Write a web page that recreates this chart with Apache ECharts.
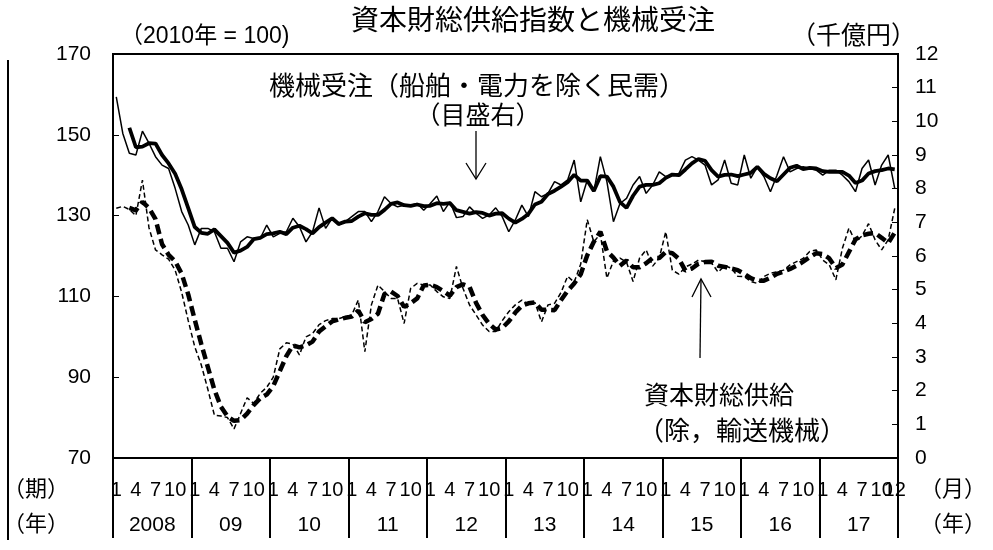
<!DOCTYPE html>
<html><head><meta charset="utf-8">
<script src="https://cdn.jsdelivr.net/npm/echarts@6/dist/echarts.min.js"></script>
<style>html,body{margin:0;padding:0;background:#fff}#c{width:993px;height:550px}</style>
</head><body><div id="c"></div>
<script>
const years = ['2008','09','10','11','12','13','14','15','16','17'];
const monthTicks = [1,4,7,10];
const leftTicks = [70,90,110,130,150,170];
const rightTicks = [0,1,2,3,4,5,6,7,8,9,10,11,12];

// 機械受注（船舶・電力を除く民需）千億円 monthly
const machThin = [10.73,9.64,9.05,9.00,9.71,9.35,8.95,8.70,8.60,8.01,7.32,6.92,
6.33,6.82,6.82,6.72,6.23,6.23,5.83,6.42,6.57,6.52,6.52,6.92,
6.57,6.67,6.72,7.12,6.87,6.42,6.72,7.43,6.82,7.12,6.92,7.02,
7.17,7.32,7.32,7.02,7.32,7.76,7.56,7.46,7.51,7.51,7.56,7.36,
7.56,7.78,7.32,7.61,7.14,7.17,7.46,7.27,7.12,7.22,7.43,7.17,
6.72,7.07,7.51,7.17,7.91,7.76,7.86,8.21,8.11,8.26,8.85,7.61,
8.26,7.91,8.95,8.21,7.02,7.56,7.71,8.11,8.36,7.86,8.11,8.50,
8.36,8.40,8.45,8.85,8.95,8.85,8.70,8.11,8.26,8.85,8.16,8.11,
9.00,8.31,8.65,8.36,7.91,8.40,8.95,8.50,8.60,8.65,8.60,8.55,
8.40,8.55,8.55,8.40,8.21,7.91,8.60,8.85,8.11,8.70,9.00,8.01];
// 機械受注 3か月移動平均（太線）
const machThick = [null,null,9.81,9.23,9.25,9.35,9.34,9.00,8.75,8.44,7.98,7.42,
6.86,6.69,6.66,6.79,6.59,6.39,6.10,6.16,6.27,6.50,6.54,6.65,
6.67,6.72,6.65,6.84,6.90,6.80,6.67,6.86,6.99,7.12,6.95,7.02,
7.04,7.17,7.27,7.22,7.22,7.37,7.55,7.59,7.51,7.49,7.53,7.48,
7.49,7.57,7.55,7.57,7.36,7.31,7.26,7.30,7.28,7.20,7.26,7.27,
7.11,6.99,7.10,7.25,7.53,7.61,7.84,7.94,8.06,8.19,8.41,8.24,
8.24,7.93,8.37,8.36,8.06,7.60,7.43,7.79,8.06,8.11,8.11,8.16,
8.32,8.42,8.40,8.57,8.75,8.88,8.83,8.55,8.36,8.41,8.42,8.37,
8.42,8.47,8.65,8.44,8.31,8.22,8.42,8.62,8.68,8.58,8.62,8.60,
8.52,8.50,8.50,8.50,8.39,8.17,8.24,8.45,8.52,8.55,8.60,8.57];
// 資本財総供給（除，輸送機械）2010年=100 monthly
const capThin = [131.8,132.3,131.5,130.0,138.8,127.0,121.5,120.3,119.2,116.5,111.0,104.0,
97.5,93.0,87.0,80.6,80.4,80.0,77.2,81.0,84.9,83.5,86.0,87.5,
90.0,97.0,98.5,98.2,95.5,100.0,100.8,103.0,104.0,104.5,104.5,105.0,
105.4,109.1,96.3,107.9,112.8,111.2,109.5,109.5,103.3,112.0,113.2,112.8,
112.8,111.2,109.9,109.5,117.4,112.0,107.9,105.4,102.9,101.3,101.3,104.0,
106.2,107.9,109.1,108.0,108.5,103.7,107.9,108.3,111.0,115.0,113.5,118.0,
129.0,123.5,125.5,114.5,118.8,119.5,118.5,113.7,119.5,121.5,117.5,119.5,
126.0,116.5,115.5,117.3,118.0,119.0,118.6,118.3,116.0,117.6,117.0,115.0,
114.9,113.7,113.2,114.9,115.7,116.1,116.5,117.8,118.6,119.4,121.1,121.5,
119.0,117.8,114.1,121.9,126.9,123.5,125.0,128.0,124.0,121.5,124.0,131.8];
// 資本財総供給 3か月移動平均（太線）
const capThick = [null,null,131.9,131.3,133.4,131.9,129.1,122.9,120.3,118.7,115.6,110.5,
104.2,98.2,92.5,86.9,82.7,80.3,79.2,79.4,81.0,83.1,84.8,85.7,
87.8,91.5,95.2,97.9,97.4,97.9,98.8,101.3,102.6,103.8,104.3,104.7,
105.0,106.5,103.6,104.4,105.7,110.6,111.2,110.1,107.4,108.3,109.5,112.7,
112.9,112.3,111.3,110.2,112.3,113.0,112.4,108.4,105.4,103.2,101.8,102.2,
103.8,106.0,107.7,108.3,108.5,106.7,106.7,106.6,109.1,111.4,113.2,115.5,
120.2,123.5,126.0,121.2,119.6,117.6,118.9,117.2,117.2,118.2,119.5,119.5,
121.0,120.7,119.3,116.4,116.9,118.1,118.5,118.6,117.6,117.3,116.9,116.5,
115.6,114.5,113.9,113.9,114.6,115.6,116.1,116.8,117.6,118.6,119.7,120.7,
120.5,119.4,117.0,117.9,121.0,124.1,125.1,125.5,125.7,124.5,123.2,125.8];

const months = [];
years.forEach(y => { for (let m = 1; m <= 12; m++) months.push(y + '-' + m); });
const lastIdx = months.length - 1;

const FONT = '"Liberation Sans", "Noto Sans CJK JP", sans-serif';
const NUM = 21;
const chart = echarts.init(document.getElementById('c'), null, {renderer: 'canvas'});
const txt = (text, x, y, size, align) => ({
  type: 'text', x: x, y: y,
  style: {text: text, fill: '#000', font: size + 'px ' + FONT, textAlign: align || 'left', textVerticalAlign: 'middle'}
});
const ln = (pts, w) => ({type: 'polyline', shape: {points: pts}, style: {stroke: '#000', lineWidth: w || 1.3, fill: null}});
const monthLabel = {color: '#000', fontSize: 20, fontFamily: FONT, margin: 22, formatter: (v) => v.split('-')[1]};

chart.setOption({
  animation: false,
  backgroundColor: '#fff',
  textStyle: {fontFamily: FONT, color: '#000'},
  grid: {left: 113, right: 95, top: 54, bottom: 92, show: true, borderColor: '#000', borderWidth: 2, containLabel: false},
  xAxis: [{
    type: 'category', data: months, boundaryGap: true, gridIndex: 0,
    axisLine: {show: true, lineStyle: {color: '#000', width: 2}},
    axisTick: {show: false},
    axisLabel: Object.assign({}, monthLabel, {
      showMinLabel: true, showMaxLabel: true,
      interval: (i) => monthTicks.indexOf(i % 12 + 1) >= 0
    }),
    splitLine: {show: false}
  }, {
    type: 'category', data: years, boundaryGap: true, gridIndex: 0, position: 'bottom',
    axisLine: {show: false},
    axisTick: {show: true, length: 80, lineStyle: {color: '#000', width: 2}},
    axisLabel: {color: '#000', fontSize: NUM, fontFamily: FONT, margin: 57, interval: 0},
    splitLine: {show: false}
  }, {
    type: 'category', data: months, boundaryGap: true, gridIndex: 0, position: 'bottom',
    axisLine: {show: false}, axisTick: {show: false},
    axisLabel: Object.assign({}, monthLabel, {
      showMinLabel: true, showMaxLabel: true,
      interval: (i) => i === lastIdx
    }),
    splitLine: {show: false}
  }],
  yAxis: [{
    type: 'value', min: leftTicks[0], max: leftTicks[leftTicks.length - 1], interval: 20, position: 'left',
    axisLine: {show: true, lineStyle: {color: '#000', width: 2}},
    axisTick: {show: true, inside: true, length: 6, lineStyle: {color: '#000', width: 1}},
    axisLabel: {color: '#000', fontSize: NUM, fontFamily: FONT, margin: 22},
    splitLine: {show: false}
  }, {
    type: 'value', min: rightTicks[0], max: rightTicks[rightTicks.length - 1], interval: 1, position: 'right',
    axisLine: {show: true, lineStyle: {color: '#000', width: 2}},
    axisTick: {show: true, inside: true, length: 6, lineStyle: {color: '#000', width: 1}},
    axisLabel: {color: '#000', fontSize: NUM, fontFamily: FONT, margin: 17},
    splitLine: {show: false}
  }],
  series: [
    {name: '資本財総供給', type: 'line', xAxisIndex: 0, yAxisIndex: 0, data: capThin, symbol: 'none',
     lineStyle: {color: '#000', width: 1.5, type: [5, 3]}},
    {name: '資本財総供給（3MA）', type: 'line', xAxisIndex: 0, yAxisIndex: 0, data: capThick, symbol: 'none',
     lineStyle: {color: '#000', width: 4.5, type: [10, 5]}},
    {name: '機械受注', type: 'line', xAxisIndex: 0, yAxisIndex: 1, data: machThin, symbol: 'none',
     lineStyle: {color: '#000', width: 1.5}},
    {name: '機械受注（3MA）', type: 'line', xAxisIndex: 0, yAxisIndex: 1, data: machThick, symbol: 'none',
     lineStyle: {color: '#000', width: 3.8}}
  ],
  graphic: [
    txt('資本財総供給指数と機械受注', 533, 22, 28, 'center'),
    txt('（2010年 = 100)', 120, 37, 23, 'left'),
    txt('（千億円）', 916, 37, 25, 'right'),
    txt('機械受注（船舶・電力を除く民需）', 477, 88, 26, 'center'),
    txt('（目盛右）', 478, 117, 25, 'center'),
    txt('資本財総供給', 719, 397, 25, 'center'),
    txt('（除，輸送機械）', 742, 433, 26, 'center'),
    txt('（期）', 36, 490, 22, 'center'),
    txt('（年）', 36, 525, 22, 'center'),
    txt('（月）', 953, 490, 22, 'center'),
    txt('（年）', 953, 525, 22, 'center'),
    ln([[476, 131], [476, 179]]),
    ln([[466, 163], [476, 179], [486, 163]]),
    ln([[700, 358], [701, 279]]),
    ln([[692, 297], [701, 279], [711, 297]]),
    ln([[8, 60], [8, 540]], 2)
  ]
});
</script></body></html>
